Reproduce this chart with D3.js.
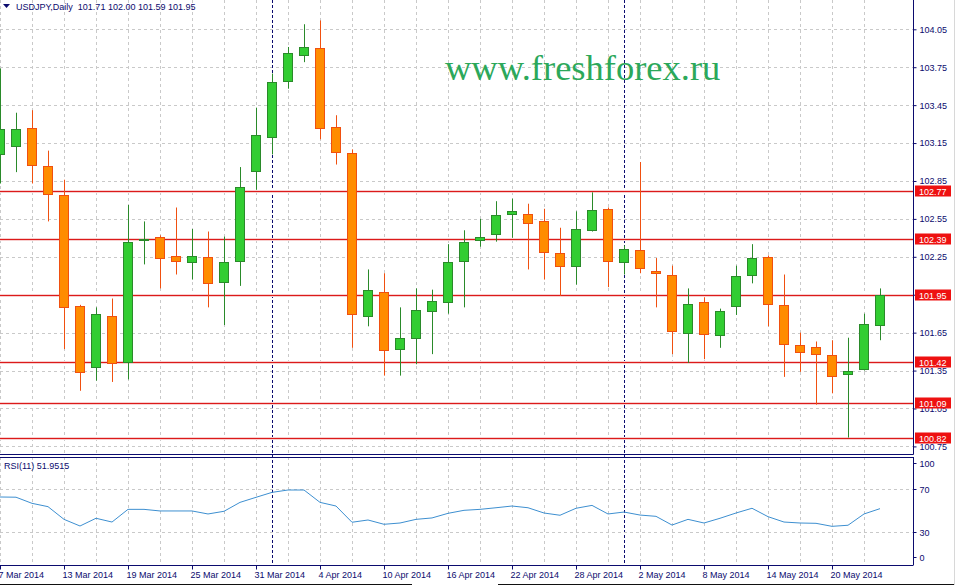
<!DOCTYPE html>
<html>
<head>
<meta charset="utf-8">
<script src="https://cdn.jsdelivr.net/npm/d3@7/dist/d3.min.js"></script>
<style>
  html, body { margin: 0; padding: 0; background: #ffffff; }
  svg { display: block; }
  text { font-family: "Liberation Sans", Arial, sans-serif; }
  text.wm { font-family: "Liberation Serif", "Times New Roman", serif; }
</style>
</head>
<body>
<svg id="chart" width="955" height="585"></svg>
<script>
// ---------------- DATA ----------------
const dates = ["7 Mar","10 Mar","11 Mar","12 Mar","13 Mar","14 Mar","17 Mar","18 Mar","19 Mar","20 Mar","21 Mar","24 Mar","25 Mar","26 Mar","27 Mar","28 Mar","31 Mar",
  "1 Apr","2 Apr","3 Apr","4 Apr","7 Apr","8 Apr","9 Apr","10 Apr","11 Apr","14 Apr","15 Apr","16 Apr","17 Apr","18 Apr","21 Apr","22 Apr","23 Apr","24 Apr","25 Apr","28 Apr","29 Apr","30 Apr",
  "1 May","2 May","5 May","6 May","7 May","8 May","9 May","12 May","13 May","14 May","15 May","16 May","19 May","20 May","21 May","22 May","23 May"];
const open  = [103.06,103.13,103.27,102.97,102.74,101.86,101.38,101.78,101.42,102.38,102.41,102.26,102.21,102.25,102.05,102.22,102.93,103.20,103.64,103.85,103.90,103.28,103.07,101.78,101.97,101.52,101.61,101.82,101.89,102.22,102.38,102.43,102.59,102.59,102.53,102.28,102.18,102.46,102.63,102.21,102.30,102.14,102.11,101.65,101.89,101.63,101.86,102.11,102.25,101.87,101.55,101.54,101.47,101.32,101.36,101.71];
const high  = [103.74,103.39,103.41,103.09,102.86,101.87,101.85,101.92,102.66,102.53,102.42,102.64,102.47,102.45,102.41,102.96,103.43,103.70,103.91,104.09,104.12,103.37,103.10,102.15,102.12,101.85,102.00,101.99,102.35,102.46,102.55,102.69,102.71,102.67,102.63,102.48,102.61,102.76,102.64,102.34,103.00,102.24,102.18,102.00,101.93,101.84,102.18,102.35,102.26,102.11,101.65,101.58,101.59,101.61,101.80,102.00];
const low   = [102.83,102.92,102.83,102.53,101.52,101.19,101.27,101.26,101.28,102.19,102.00,102.11,102.07,101.85,101.71,102.02,102.78,103.06,103.58,103.79,103.18,102.98,101.53,101.70,101.31,101.31,101.40,101.48,101.80,101.85,102.33,102.37,102.40,102.15,102.07,101.94,102.03,102.45,102.01,102.11,102.12,101.85,101.48,101.41,101.44,101.53,101.79,102.04,101.70,101.30,101.34,101.08,101.17,100.82,101.35,101.59];
const close = [103.26,103.26,102.98,102.75,101.85,101.34,101.80,101.41,102.37,102.39,102.24,102.22,102.26,102.04,102.21,102.80,103.21,103.63,103.86,103.91,103.27,103.08,101.80,101.99,101.51,101.61,101.83,101.90,102.21,102.37,102.41,102.58,102.61,102.52,102.29,102.18,102.47,102.62,102.22,102.31,102.16,102.12,101.66,101.88,101.64,101.82,102.10,102.24,101.88,101.56,101.50,101.48,101.31,101.35,101.72,101.95];
const rsi   = [62.8,62.6,56.9,53.8,42.0,35.8,43.0,39.5,51.3,51.3,49.8,49.8,49.8,47.0,49.5,57.8,62.5,67.1,69.3,69.3,57.8,54.4,39.3,41.4,37.4,38.6,42.0,43.3,47.6,50.4,51.3,52.8,54.4,52.8,47.9,45.8,52.3,55.0,47.0,48.8,46.0,44.8,36.7,42.0,38.6,43.0,47.9,52.3,44.5,39.5,38.6,38.3,35.5,36.5,47.0,51.95];
const dateLabels = ["7 Mar 2014","13 Mar 2014","19 Mar 2014","25 Mar 2014","31 Mar 2014","4 Apr 2014","10 Apr 2014","16 Apr 2014","22 Apr 2014","28 Apr 2014","2 May 2014","8 May 2014","14 May 2014","20 May 2014"];
const priceTicks = [104.05,103.75,103.45,103.15,102.85,102.55,102.25,101.95,101.65,101.35,101.05,100.75];
const levels = [102.77,102.39,101.95,101.42,101.09,100.82];
const rsiTicks = [100,70,30,0];
const rsiGrid = [70,30];
const separators = ["1 Apr","1 May"];
const titleText = "USDJPY,Daily  101.71 102.00 101.59 101.95";
const rsiText = "RSI(11) 51.9515";
const watermark = "www.freshforex.ru";

// ---------------- LAYOUT ----------------
const svg = d3.select("#chart");
const axisX = 913;
const mainTop = 0, mainBottom = 454;
const rsiTop = 457, rsiBottom = 564.5;
const navy = "#0b0b6e";

const x = d3.scalePoint().domain(dates).range([0, 880]);
const y = d3.scaleLinear().domain([100.75, 104.05]).range([446.4, 29.3]);
const yr = d3.scaleLinear().domain([0, 100]).range([rsiBottom, rsiTop]);
const px = v => Math.round(v) + 0.5;

const defs = svg.append("defs");
defs.append("clipPath").attr("id", "clipMain").append("rect")
  .attr("x", 0).attr("y", mainTop).attr("width", axisX).attr("height", mainBottom - mainTop);
defs.append("clipPath").attr("id", "clipRsi").append("rect")
  .attr("x", 0).attr("y", rsiTop).attr("width", axisX).attr("height", rsiBottom - rsiTop);

const gridColor = "#c9c9c9";
const gridX = dates.filter((d, i) => i % 2 === 0);

// ---- main grid ----
const gMain = svg.append("g").attr("clip-path", "url(#clipMain)");
gMain.selectAll("line.hg").data(priceTicks).join("line")
  .attr("x1", 0).attr("x2", axisX).attr("y1", d => px(y(d))).attr("y2", d => px(y(d)))
  .attr("stroke", gridColor).attr("stroke-dasharray", "3,3");
gMain.selectAll("line.vg").data(gridX).join("line")
  .attr("x1", d => px(x(d))).attr("x2", d => px(x(d))).attr("y1", mainTop).attr("y2", mainBottom)
  .attr("stroke", gridColor).attr("stroke-dasharray", "3,3");

// watermark
gMain.append("text").attr("class", "wm").attr("x", 445).attr("y", 80)
  .attr("font-size", 36.5).attr("fill", "#2ca85a").text(watermark);

// separators (behind candles)
svg.selectAll("line.sep").data(separators).join("line")
  .attr("x1", d => px(x(d))).attr("x2", d => px(x(d))).attr("y1", mainTop).attr("y2", rsiBottom)
  .attr("stroke", navy).attr("stroke-dasharray", "3,2");

// level lines (with a faint halo like the reference)
const gTop = svg.append("g").attr("clip-path", "url(#clipMain)");
gTop.selectAll("line.lvlHalo").data(levels).join("line").attr("class", "lvlHalo")
  .attr("x1", 0).attr("x2", axisX).attr("y1", d => px(y(d))).attr("y2", d => px(y(d)))
  .attr("stroke", "#f7cfcf").attr("stroke-width", 3);
gTop.selectAll("line.lvl").data(levels).join("line").attr("class", "lvl")
  .attr("x1", 0).attr("x2", axisX).attr("y1", d => px(y(d))).attr("y2", d => px(y(d)))
  .attr("stroke", "#dc1a1a").attr("stroke-width", 1);

// candles
const bars = dates.map((d, i) => ({d, o: open[i], h: high[i], l: low[i], c: close[i]}));
const bullFill = "#32cd32", bullLine = "#2a8a2a", bearFill = "#ff8c00", bearLine = "#f05010";
const cg = gTop.selectAll("g.candle").data(bars).join("g");
cg.append("line")
  .attr("x1", b => px(x(b.d))).attr("x2", b => px(x(b.d)))
  .attr("y1", b => y(b.h)).attr("y2", b => y(b.l))
  .attr("stroke", b => b.c >= b.o ? bullLine : bearLine);
cg.append("rect")
  .attr("x", b => Math.round(x(b.d)) - 4.5)
  .attr("width", 9)
  .attr("y", b => Math.round(y(Math.max(b.o, b.c))) + 0.5)
  .attr("height", b => Math.max(1, Math.round(y(Math.min(b.o, b.c))) - Math.round(y(Math.max(b.o, b.c)))))
  .attr("fill", b => b.c >= b.o ? bullFill : bearFill)
  .attr("stroke", b => b.c >= b.o ? bullLine : bearLine);

// ---- RSI grid ----
const gR = svg.append("g").attr("clip-path", "url(#clipRsi)");
gR.selectAll("line.hg").data(rsiGrid).join("line")
  .attr("x1", 0).attr("x2", axisX).attr("y1", d => px(yr(d))).attr("y2", d => px(yr(d)))
  .attr("stroke", gridColor).attr("stroke-dasharray", "3,3");
gR.selectAll("line.vg").data(gridX).join("line")
  .attr("x1", d => px(x(d))).attr("x2", d => px(x(d))).attr("y1", rsiTop).attr("y2", rsiBottom)
  .attr("stroke", gridColor).attr("stroke-dasharray", "3,3");
gR.append("path")
  .datum(rsi.map((v, i) => [x(dates[i]), yr(v)]))
  .attr("d", d3.line()).attr("fill", "none").attr("stroke", "#3d8fd0").attr("stroke-width", 1);

// ---- frames ----
svg.append("line").attr("x1", px(axisX)).attr("x2", px(axisX)).attr("y1", mainTop).attr("y2", mainBottom + 0.5).attr("stroke", navy);
svg.append("line").attr("x1", 0).attr("x2", px(axisX)).attr("y1", px(mainBottom)).attr("y2", px(mainBottom)).attr("stroke", navy);
svg.append("line").attr("x1", 0).attr("x2", px(axisX)).attr("y1", px(rsiTop)).attr("y2", px(rsiTop)).attr("stroke", navy);
svg.append("line").attr("x1", px(axisX)).attr("x2", px(axisX)).attr("y1", rsiTop).attr("y2", rsiBottom + 0.5).attr("stroke", navy);
svg.append("line").attr("x1", 0).attr("x2", px(axisX)).attr("y1", px(rsiBottom)).attr("y2", px(rsiBottom)).attr("stroke", navy);

// ---- price axis ----
const pa = svg.append("g").attr("transform", `translate(${px(axisX)},0)`)
  .call(d3.axisRight(y).tickValues(priceTicks).tickFormat(d3.format(".2f")).tickSize(3).tickPadding(3));
pa.select(".domain").remove();
pa.selectAll("line").attr("stroke", navy);
pa.selectAll("text").attr("fill", navy).attr("font-size", 9).attr("font-family", null);

// level labels
const lg = svg.selectAll("g.lvlLabel").data(levels).join("g")
  .attr("transform", d => `translate(915,${Math.round(y(d))})`);
lg.append("rect").attr("x", 0).attr("y", -5.5).attr("width", 36).attr("height", 11).attr("fill", "#ee1111");
lg.append("text").attr("x", 4).attr("y", 3.5).attr("font-size", 9).attr("fill", "#ffffff").text(d => d.toFixed(2));

// ---- RSI axis ----
const ra = svg.append("g").attr("transform", `translate(${px(axisX)},0)`);
const rsiLabelPos = v => v === 100 ? yr(v) + 6 : (v === 0 ? yr(v) - 7.5 : yr(v));
ra.selectAll("line").data(rsiTicks).join("line")
  .attr("x1", 0).attr("x2", 3).attr("y1", d => px(rsiLabelPos(d))).attr("y2", d => px(rsiLabelPos(d))).attr("stroke", navy);
ra.selectAll("text").data(rsiTicks).join("text")
  .attr("x", 6).attr("y", d => rsiLabelPos(d) + 3.5).attr("font-size", 9).attr("fill", navy).text(d => d);

// ---- date axis ----
const xa = svg.append("g").attr("transform", `translate(0,${px(rsiBottom)})`);
const labelDates = dateLabels.map(s => s.replace(" 2014", ""));
xa.selectAll("line").data(labelDates).join("line")
  .attr("x1", d => px(x(d))).attr("x2", d => px(x(d))).attr("y1", 0).attr("y2", 4).attr("stroke", navy);
xa.selectAll("text").data(dateLabels).join("text")
  .attr("x", (d, i) => x(labelDates[i]) - 1.5).attr("y", 12.5)
  .attr("font-size", 9).attr("fill", navy).text(d => d);

// ---- titles ----
svg.append("path").attr("d", "M3,4 L10,4 L6.5,8 Z").attr("fill", navy);
svg.append("text").attr("x", 16).attr("y", 9.5).attr("font-size", 9).attr("fill", navy)
  .attr("xml:space", "preserve").style("white-space", "pre").text(titleText);
svg.append("text").attr("x", 4).attr("y", 469).attr("font-size", 9).attr("fill", navy).text(rsiText);

// window edges
svg.append("line").attr("x1", 0).attr("x2", 412).attr("y1", 584.5).attr("y2", 584.5).attr("stroke", "#111");
svg.append("line").attr("x1", 498).attr("x2", 955).attr("y1", 584.5).attr("y2", 584.5).attr("stroke", "#111");
svg.append("line").attr("x1", 954.5).attr("x2", 954.5).attr("y1", 0).attr("y2", 585).attr("stroke", "#d8d8d8");
</script>
</body>
</html>
